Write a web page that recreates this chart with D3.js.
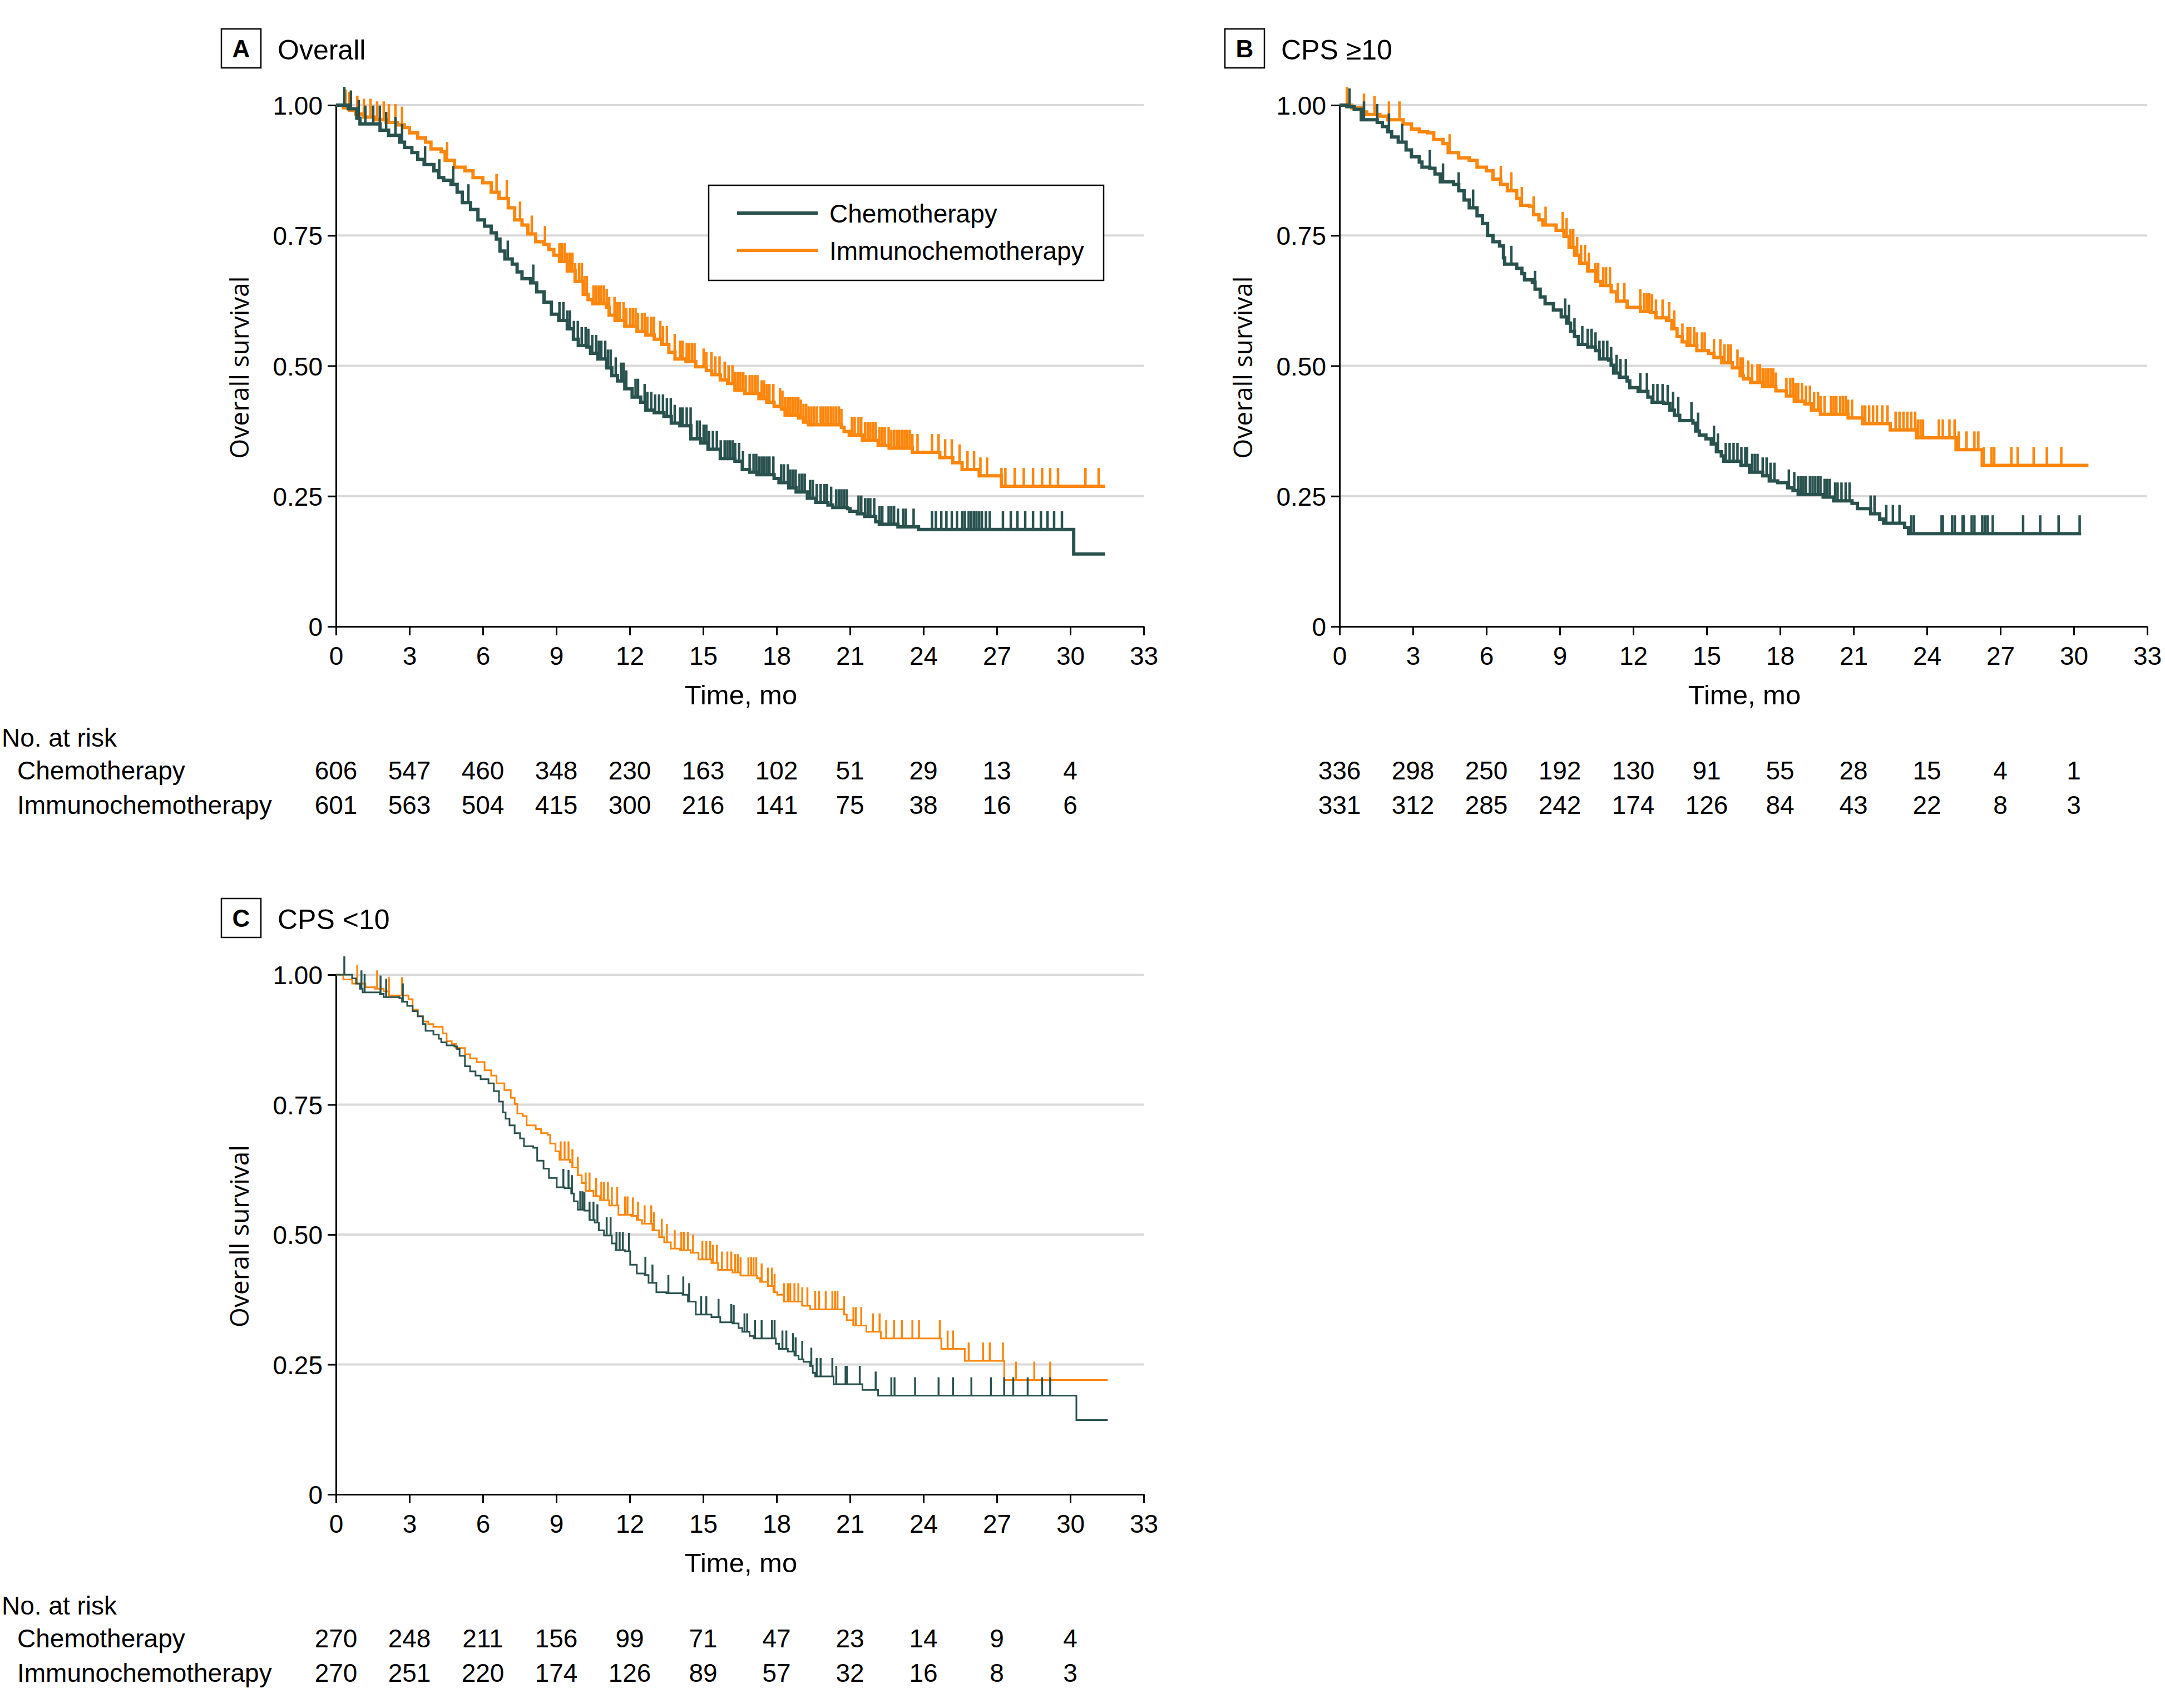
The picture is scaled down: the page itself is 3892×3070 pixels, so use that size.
<!DOCTYPE html>
<html><head><meta charset="utf-8">
<script src="https://cdn.jsdelivr.net/npm/d3@7/dist/d3.min.js"></script>
<style>body{margin:0;background:#fff}svg{display:block}</style>
</head><body>
<svg id="chart" width="3892" height="3070"></svg>
<script>
// ---------- DATA ----------
const seriesNames = ["Chemotherapy", "Immunochemotherapy"];
const seriesColors = ["#29524f", "#fd860d"];
const xTicks = [0, 3, 6, 9, 12, 15, 18, 21, 24, 27, 30, 33];
const yTicks = [0, 0.25, 0.5, 0.75, 1];
const yTickLabels = ["0", "0.25", "0.50", "0.75", "1.00"];
const riskTimes = [0, 3, 6, 9, 12, 15, 18, 21, 24, 27, 30];
const panelLetters = ["A", "B", "C"];
const panelTitles = ["Overall", "CPS \u226510", "CPS <10"];

// Number at risk
const riskA_chemo = [606, 547, 460, 348, 230, 163, 102, 51, 29, 13, 4];
const riskA_immuno = [601, 563, 504, 415, 300, 216, 141, 75, 38, 16, 6];
const riskB_chemo = [336, 298, 250, 192, 130, 91, 55, 28, 15, 4, 1];
const riskB_immuno = [331, 312, 285, 242, 174, 126, 84, 43, 22, 8, 3];
const riskC_chemo = [270, 248, 211, 156, 99, 71, 47, 23, 14, 9, 4];
const riskC_immuno = [270, 251, 220, 174, 126, 89, 57, 32, 16, 8, 3];

// Kaplan-Meier steps [month, survival after step]
const stepsA_chemo = [[0,1],[0.5,0.993],[0.85,0.975],[0.98,0.964],[1.8,0.952],[2.15,0.942],[2.6,0.929],[2.8,0.919],[3.1,0.909],[3.34,0.896],[3.6,0.886],[4.0,0.874],[4.2,0.861],[4.4,0.856],[4.7,0.848],[4.95,0.833],[5.16,0.813],[5.5,0.8],[5.8,0.78],[6.07,0.768],[6.34,0.755],[6.55,0.743],[6.7,0.72],[6.9,0.705],[7.2,0.695],[7.4,0.68],[7.6,0.667],[7.95,0.659],[8.2,0.642],[8.5,0.622],[8.8,0.599],[9.1,0.587],[9.45,0.571],[9.7,0.551],[9.9,0.539],[10.25,0.536],[10.4,0.524],[10.7,0.513],[11.06,0.496],[11.27,0.481],[11.5,0.471],[11.8,0.456],[12.1,0.44],[12.45,0.43],[12.66,0.415],[13.0,0.41],[13.4,0.403],[13.7,0.39],[14.05,0.385],[14.5,0.36],[14.9,0.352],[15.2,0.34],[15.7,0.322],[16.3,0.317],[16.6,0.301],[16.9,0.296],[17.2,0.291],[17.9,0.284],[18.1,0.276],[18.5,0.266],[18.8,0.258],[19.26,0.246],[19.6,0.238],[20.1,0.233],[20.3,0.228],[20.9,0.226],[21.0,0.221],[21.3,0.216],[21.6,0.211],[22.05,0.201],[22.2,0.196],[22.96,0.191],[23.8,0.186],[30.14,0.139]];
const endA_chemo = 31.43;
const censorA_chemo = [0.34,0.61,0.93,1.2,1.52,1.79,2.05,2.43,2.7,3.64,4.22,4.79,5.41,7.02,8.06,9.13,9.29,9.45,9.56,9.72,9.88,10.04,10.2,10.31,10.47,10.63,10.74,10.84,11.0,11.11,11.22,11.43,11.65,11.75,11.86,12.24,12.34,12.61,12.72,12.88,13.04,13.2,13.36,13.52,13.68,13.84,14.06,14.16,14.33,14.49,14.75,14.86,15.02,15.13,15.24,15.4,15.56,15.72,15.88,15.99,16.09,16.2,16.31,16.47,16.63,16.9,17.06,17.17,17.28,17.39,17.49,17.6,17.71,17.87,18.19,18.3,18.46,18.56,18.67,18.78,18.94,19.05,19.15,19.37,19.48,19.64,19.8,19.96,20.06,20.23,20.44,20.55,20.65,20.76,20.87,21.35,21.46,21.62,21.73,21.83,21.99,22.21,22.32,22.58,22.69,22.8,22.96,23.17,23.28,23.6,24.35,24.51,24.73,24.94,25.16,25.37,25.58,25.69,25.85,25.96,26.07,26.17,26.28,26.39,26.55,26.71,27.25,27.57,27.84,28.16,28.48,28.8,29.07,29.34,29.66];

const stepsA_immuno = [[0,1],[0.3,0.995],[0.55,0.99],[0.8,0.983],[1.14,0.977],[1.6,0.972],[2.05,0.967],[2.5,0.962],[2.8,0.957],[3.0,0.947],[3.34,0.937],[3.66,0.929],[3.88,0.916],[4.3,0.911],[4.46,0.894],[4.84,0.881],[5.27,0.874],[5.6,0.861],[6.0,0.851],[6.34,0.833],[6.66,0.821],[7.04,0.803],[7.3,0.78],[7.6,0.77],[7.84,0.753],[8.16,0.738],[8.5,0.733],[8.7,0.723],[8.9,0.712],[9.13,0.7],[9.45,0.682],[9.77,0.662],[10.1,0.637],[10.3,0.627],[10.5,0.619],[11.06,0.612],[11.16,0.597],[11.4,0.587],[11.8,0.576],[12.3,0.566],[12.66,0.559],[13.0,0.551],[13.3,0.541],[13.6,0.526],[13.85,0.513],[14.3,0.508],[14.7,0.498],[15.13,0.491],[15.35,0.483],[15.7,0.473],[16.0,0.466],[16.3,0.453],[16.7,0.447],[17.28,0.437],[17.6,0.43],[17.9,0.422],[18.2,0.417],[18.35,0.405],[18.9,0.4],[19.1,0.392],[19.3,0.387],[20.65,0.382],[20.76,0.374],[20.97,0.367],[21.5,0.357],[22.15,0.347],[22.6,0.342],[23.55,0.334],[24.67,0.324],[25.2,0.314],[25.58,0.301],[26.28,0.289],[27.19,0.269]];
const endA_immuno = 31.43;
const censorA_immuno = [0.39,0.55,0.87,1.14,1.41,1.68,1.95,2.16,2.43,2.7,4.54,6.56,6.98,7.52,8.0,8.54,9.13,9.23,9.34,9.45,9.56,9.66,9.77,9.93,10.04,10.15,10.25,10.52,10.63,10.74,10.84,10.95,11.06,11.16,11.38,11.49,11.59,11.75,11.86,12.02,12.13,12.24,12.34,12.5,12.61,12.72,12.88,12.99,13.25,13.36,13.52,13.84,14.06,14.16,14.33,14.43,14.54,14.65,15.02,15.13,15.34,15.5,15.67,15.88,16.04,16.2,16.31,16.42,16.53,16.64,16.74,16.9,17.01,17.12,17.22,17.39,17.49,17.6,17.71,17.87,18.14,18.24,18.35,18.46,18.56,18.67,18.78,18.89,18.99,19.1,19.21,19.31,19.42,19.53,19.64,19.8,19.9,20.01,20.12,20.23,20.33,20.44,20.55,20.65,21.08,21.19,21.35,21.46,21.62,21.73,21.83,21.94,22.05,22.21,22.32,22.42,22.58,22.69,22.8,22.91,23.01,23.12,23.23,23.33,23.44,23.55,23.76,24.35,24.62,24.89,25.16,25.48,25.8,26.07,26.33,26.6,27.19,27.35,27.73,28.1,28.48,28.85,29.18,29.5,30.62,31.16];

const stepsB_chemo = [[0,1],[0.3,0.997],[0.6,0.992],[0.89,0.972],[1.54,0.967],[1.75,0.959],[1.97,0.949],[2.13,0.939],[2.4,0.929],[2.72,0.914],[2.94,0.901],[3.26,0.891],[3.37,0.881],[3.69,0.879],[3.9,0.868],[4.12,0.853],[4.66,0.848],[4.87,0.836],[5.09,0.818],[5.3,0.803],[5.62,0.788],[5.84,0.773],[6.05,0.75],[6.27,0.738],[6.54,0.73],[6.7,0.707],[6.75,0.695],[7.24,0.687],[7.45,0.677],[7.56,0.665],[7.88,0.66],[7.99,0.647],[8.2,0.632],[8.4,0.619],[8.74,0.607],[9.06,0.594],[9.28,0.582],[9.44,0.566],[9.6,0.556],[9.76,0.541],[10.14,0.536],[10.46,0.529],[10.62,0.513],[11.0,0.511],[11.1,0.501],[11.2,0.486],[11.43,0.478],[11.75,0.471],[11.86,0.458],[12.2,0.451],[12.6,0.44],[12.77,0.43],[13.25,0.428],[13.5,0.415],[13.68,0.405],[13.9,0.395],[14.44,0.39],[14.55,0.375],[14.7,0.367],[14.97,0.36],[15.19,0.35],[15.4,0.335],[15.6,0.327],[15.7,0.317],[16.4,0.309],[16.75,0.296],[17.29,0.289],[17.56,0.279],[17.9,0.276],[18.31,0.266],[18.53,0.261],[18.74,0.253],[19.76,0.248],[20.19,0.241],[20.94,0.236],[21.16,0.226],[21.7,0.216],[22.07,0.206],[22.23,0.198],[23.09,0.19],[23.25,0.178]];
const endB_chemo = 30.3;
const censorB_chemo = [0.41,1.0,1.54,2.02,2.56,3.69,4.23,4.87,5.46,7.02,7.99,9.22,9.38,9.6,9.92,10.14,10.3,10.46,10.62,10.78,10.94,11.1,11.32,11.48,11.7,12.29,12.56,12.82,12.99,13.2,13.41,13.63,13.84,14.38,14.65,15.3,15.46,15.78,15.94,16.1,16.26,16.42,16.58,16.65,16.86,16.97,17.08,17.29,17.45,17.61,17.77,18.36,18.58,18.74,18.85,18.96,19.06,19.22,19.33,19.44,19.55,19.65,19.82,19.92,20.03,20.25,20.35,20.51,20.68,20.84,21.7,21.86,22.34,22.61,22.88,23.36,23.47,24.6,24.65,25.03,25.14,25.46,25.51,25.83,25.94,26.26,26.37,26.48,26.69,27.93,28.63,29.38,30.24];

const stepsB_immuno = [[0,1],[0.5,0.995],[0.9,0.987],[1.11,0.982],[1.65,0.979],[1.97,0.972],[2.6,0.964],[2.94,0.954],[3.26,0.949],[3.6,0.947],[3.85,0.934],[4.23,0.926],[4.44,0.909],[4.87,0.899],[5.3,0.894],[5.62,0.881],[6.0,0.874],[6.27,0.858],[6.59,0.848],[6.86,0.836],[7.24,0.821],[7.4,0.808],[7.77,0.806],[7.93,0.79],[8.15,0.78],[8.31,0.77],[8.85,0.76],[9.17,0.748],[9.38,0.727],[9.6,0.712],[9.81,0.697],[10.14,0.682],[10.46,0.662],[10.67,0.654],[11.1,0.642],[11.32,0.624],[11.75,0.612],[12.3,0.604],[12.7,0.602],[12.93,0.592],[13.36,0.587],[13.58,0.571],[13.79,0.556],[14.0,0.546],[14.2,0.539],[14.6,0.529],[15.08,0.524],[15.3,0.516],[15.62,0.506],[16.05,0.496],[16.37,0.481],[16.5,0.475],[16.8,0.468],[17.29,0.46],[17.83,0.452],[18.26,0.442],[18.58,0.432],[19.01,0.427],[19.28,0.415],[19.65,0.407],[20.78,0.4],[21.37,0.389],[22.5,0.377],[23.58,0.362],[25.19,0.339],[26.26,0.309]];
const endB_immuno = 30.6;
const censorB_immuno = [0.3,1.0,1.43,2.02,2.45,4.5,6.59,7.02,7.45,7.93,8.42,9.12,9.28,9.44,9.55,9.71,9.87,10.03,10.19,10.46,10.57,10.78,10.89,11.05,11.37,11.64,12.29,12.45,12.56,12.66,12.77,12.93,13.2,13.47,13.68,14.01,14.22,14.33,14.49,14.6,14.81,14.92,15.3,15.56,15.73,15.89,15.99,16.26,16.38,16.48,16.7,16.86,17.08,17.18,17.29,17.4,17.5,17.61,17.72,17.83,18.26,18.42,18.53,18.63,18.74,18.9,19.06,19.22,19.39,19.55,19.65,19.82,20.08,20.19,20.3,20.46,20.57,20.68,20.78,20.94,21.37,21.48,21.64,21.8,21.96,22.18,22.39,22.72,22.88,23.04,23.2,23.36,23.52,23.63,23.74,23.84,24.49,24.65,24.92,25.13,25.3,25.62,25.94,26.1,26.32,26.64,26.75,27.45,27.71,28.36,28.9,29.49];

const stepsC_chemo = [[0,1],[0.66,0.993],[0.82,0.983],[0.98,0.973],[1.09,0.966],[1.79,0.963],[1.95,0.957],[2.59,0.955],[2.7,0.948],[2.91,0.94],[3.13,0.93],[3.34,0.92],[3.55,0.905],[3.66,0.892],[3.98,0.885],[4.2,0.877],[4.3,0.87],[4.52,0.864],[4.84,0.862],[4.95,0.857],[5.05,0.844],[5.27,0.824],[5.48,0.814],[5.7,0.806],[5.91,0.799],[6.23,0.791],[6.45,0.776],[6.66,0.756],[6.82,0.735],[6.93,0.723],[7.09,0.71],[7.3,0.695],[7.52,0.685],[7.68,0.67],[8.06,0.667],[8.22,0.642],[8.48,0.627],[8.7,0.609],[9.02,0.591],[9.34,0.589],[9.61,0.579],[9.72,0.564],[9.88,0.548],[10.15,0.546],[10.36,0.528],[10.57,0.523],[10.74,0.508],[10.95,0.498],[11.27,0.483],[11.43,0.47],[11.81,0.468],[12.02,0.442],[12.29,0.425],[12.61,0.422],[12.77,0.407],[13.09,0.389],[13.5,0.387],[14.16,0.384],[14.38,0.371],[14.7,0.346],[15.34,0.341],[15.7,0.331],[16.2,0.329],[16.45,0.32],[16.6,0.313],[16.9,0.305],[17.06,0.3],[17.97,0.29],[18.1,0.28],[18.46,0.275],[18.73,0.267],[18.9,0.26],[19.1,0.255],[19.37,0.247],[19.48,0.234],[19.58,0.227],[20.33,0.212],[21.51,0.201],[22.15,0.19],[30.25,0.143]];
const endC_chemo = 31.53;
const censorC_chemo = [0.34,1.04,1.17,1.82,2.05,2.73,9.29,9.5,9.64,9.98,10.07,10.15,10.36,10.52,10.68,11.06,11.22,11.46,11.59,11.72,11.97,12.64,12.93,13.58,14.19,14.43,14.92,15.13,15.63,16.15,16.25,16.69,16.8,17.12,17.39,17.81,17.92,18.24,18.4,18.67,18.78,19.05,19.42,19.64,19.8,20.28,20.44,20.82,20.87,21.4,22.05,22.69,22.82,23.66,24.62,25.21,25.96,26.76,27.3,27.67,28.26,28.85,29.18];

const stepsC_immuno = [[0,1],[0.3,0.991],[0.66,0.983],[1.2,0.976],[1.6,0.973],[1.95,0.968],[2.16,0.96],[2.96,0.953],[3.13,0.933],[3.34,0.92],[3.55,0.91],[3.77,0.905],[3.98,0.9],[4.36,0.887],[4.52,0.872],[4.73,0.867],[4.9,0.859],[5.27,0.847],[5.48,0.839],[5.75,0.832],[6.07,0.816],[6.34,0.806],[6.56,0.791],[6.88,0.778],[7.14,0.763],[7.3,0.751],[7.41,0.733],[7.63,0.728],[7.79,0.71],[8.16,0.703],[8.38,0.695],[8.65,0.692],[8.75,0.675],[8.97,0.66],[9.13,0.644],[9.56,0.639],[9.66,0.629],[9.88,0.614],[10.04,0.599],[10.2,0.584],[10.52,0.574],[10.79,0.566],[11.16,0.556],[11.54,0.538],[12.07,0.536],[12.29,0.528],[12.5,0.521],[12.93,0.508],[13.2,0.495],[13.41,0.485],[13.68,0.473],[14.06,0.47],[14.49,0.465],[14.81,0.452],[15.34,0.445],[15.61,0.432],[16.2,0.427],[16.53,0.421],[17.2,0.416],[17.33,0.409],[17.65,0.401],[17.87,0.389],[18.03,0.384],[18.3,0.371],[19.05,0.363],[19.37,0.356],[20.76,0.346],[20.87,0.335],[21.14,0.325],[21.67,0.313],[22.26,0.3],[24.73,0.28],[25.69,0.257],[27.3,0.22]];
const endC_immuno = 31.53;
const censorC_immuno = [0.87,1.68,2.16,2.7,9.18,9.34,9.5,9.66,9.88,10.2,10.36,10.63,10.84,10.95,11.11,11.27,11.49,11.81,11.91,12.13,12.34,12.61,12.88,12.99,13.31,13.52,13.84,14.11,14.22,14.38,14.59,14.97,15.13,15.29,15.4,15.56,15.77,15.99,16.15,16.31,16.42,16.53,16.85,16.96,17.06,17.17,17.39,17.65,17.81,17.92,18.3,18.46,18.56,18.73,18.89,19.05,19.26,19.58,19.74,20.01,20.28,20.39,20.49,20.76,21.14,21.24,21.46,21.94,22.21,22.48,22.8,23.12,23.55,23.82,24.67,24.99,25.21,25.85,26.44,26.71,27.25,27.78,28.53,29.18];

// ---------- PANEL CONFIG ----------
const panels = [
  { letter: panelLetters[0], title: panelTitles[0], left: 604, top: 189, bottom: 1126, lw: 6, cw: 4.5, legend: true, riskLabels: true,
    series: [
      { steps: stepsA_chemo, end: endA_chemo, censor: censorA_chemo, risk: riskA_chemo },
      { steps: stepsA_immuno, end: endA_immuno, censor: censorA_immuno, risk: riskA_immuno } ] },
  { letter: panelLetters[1], title: panelTitles[1], left: 2408, top: 189, bottom: 1126, lw: 6, cw: 4.5, legend: false, riskLabels: false,
    series: [
      { steps: stepsB_chemo, end: endB_chemo, censor: censorB_chemo, risk: riskB_chemo },
      { steps: stepsB_immuno, end: endB_immuno, censor: censorB_immuno, risk: riskB_immuno } ] },
  { letter: panelLetters[2], title: panelTitles[2], left: 604, top: 1752, bottom: 2686, lw: 3, cw: 3.5, legend: false, riskLabels: true,
    series: [
      { steps: stepsC_chemo, end: endC_chemo, censor: censorC_chemo, risk: riskC_chemo },
      { steps: stepsC_immuno, end: endC_immuno, censor: censorC_immuno, risk: riskC_immuno } ] }
];

const W = 1452;
const FONT = "'Liberation Sans', Arial, sans-serif";
const svg = d3.select("#chart");
svg.append("rect").attr("width", 3892).attr("height", 3070).attr("fill", "#fff");

function survAt(steps, t) {
  let s = 1;
  for (const [tt, ss] of steps) { if (tt <= t) s = ss; else break; }
  return s;
}

panels.forEach(p => {
  const x = d3.scaleLinear().domain([0, 33]).range([p.left, p.left + W]);
  const y = d3.scaleLinear().domain([0, 1]).range([p.bottom, p.top]);
  const g = svg.append("g");

  // gridlines
  g.selectAll(".grid").data(yTicks.filter(d => d > 0)).enter().append("line")
    .attr("x1", x(0)).attr("x2", x(33)).attr("y1", d => y(d)).attr("y2", d => y(d))
    .attr("stroke", "#d9d9d9").attr("stroke-width", 4);

  // x axis
  const xAxis = d3.axisBottom(x).tickValues(xTicks).tickSize(16).tickSizeOuter(0).tickFormat(d3.format("d"));
  const gx = g.append("g").attr("transform", `translate(0,${p.bottom})`).call(xAxis);
  gx.select(".domain").attr("stroke", "#000").attr("stroke-width", 3);
  gx.selectAll(".tick line").attr("stroke", "#000").attr("stroke-width", 3);
  gx.selectAll(".tick text").attr("font-family", FONT).attr("font-size", 46).attr("fill", "#000")
    .attr("y", 69).attr("dy", 0);

  // y axis
  const yAxis = d3.axisLeft(y).tickValues(yTicks).tickSize(15).tickSizeOuter(0)
    .tickFormat((d, i) => yTickLabels[i]);
  const gy = g.append("g").attr("transform", `translate(${p.left},0)`).call(yAxis);
  gy.select(".domain").attr("stroke", "#000").attr("stroke-width", 3);
  gy.selectAll(".tick line").attr("stroke", "#000").attr("stroke-width", 3);
  gy.selectAll(".tick text").attr("font-family", FONT).attr("font-size", 46).attr("fill", "#000")
    .attr("x", -24).attr("dy", "0.36em");

  // axis titles
  g.append("text").attr("x", p.left + W / 2 + 2).attr("y", p.bottom + 140)
    .attr("text-anchor", "middle").attr("font-family", FONT).attr("font-size", 49).text("Time, mo");
  g.append("text").attr("transform", `translate(${p.left - 157},${(p.top + p.bottom) / 2 + 3}) rotate(-90)`)
    .attr("text-anchor", "middle").attr("font-family", "'Open Sans', 'Noto Sans', sans-serif").attr("font-size", 46)
    .text("Overall survival");

  // panel title
  g.append("rect").attr("x", p.left - 206).attr("y", p.top - 137).attr("width", 71).attr("height", 70)
    .attr("fill", "none").attr("stroke", "#000").attr("stroke-width", 2.5);
  g.append("text").attr("x", p.left - 170.5).attr("y", p.top - 86).attr("text-anchor", "middle")
    .attr("font-family", FONT).attr("font-weight", "bold").attr("font-size", 44).text(p.letter);
  g.append("text").attr("x", p.left - 105).attr("y", p.top - 82)
    .attr("font-family", FONT).attr("font-size", 50).text(p.title);

  // curves (immuno first, chemo on top)
  const line = d3.line().x(d => x(d[0])).y(d => y(d[1])).curve(d3.curveStepAfter);
  [1, 0].forEach(si => {
    const s = p.series[si];
    const pts = s.steps.concat([[s.end, s.steps[s.steps.length - 1][1]]]);
    g.append("path").attr("d", line(pts)).attr("fill", "none")
      .attr("stroke", seriesColors[si]).attr("stroke-width", p.lw).attr("stroke-linejoin", "miter");
    g.selectAll(null).data(s.censor).enter().append("line")
      .attr("x1", d => x(d)).attr("x2", d => x(d))
      .attr("y1", d => y(survAt(s.steps, d)) + p.lw / 2 - 1)
      .attr("y2", d => y(survAt(s.steps, d)) - 33)
      .attr("stroke", seriesColors[si]).attr("stroke-width", p.cw);
  });

  // legend
  if (p.legend) {
    const lx = p.left + 670, ly = p.top + 144;
    g.append("rect").attr("x", lx).attr("y", ly).attr("width", 710).attr("height", 171)
      .attr("fill", "#fff").attr("stroke", "#000").attr("stroke-width", 2.5);
    seriesNames.forEach((n, i) => {
      const yy = ly + 50 + i * 67;
      g.append("line").attr("x1", lx + 51).attr("x2", lx + 196).attr("y1", yy).attr("y2", yy)
        .attr("stroke", seriesColors[i]).attr("stroke-width", 6);
      g.append("text").attr("x", lx + 217).attr("y", yy + 17).attr("font-family", FONT)
        .attr("font-size", 46).text(n);
    });
  }

  // number at risk
  if (p.riskLabels) {
    g.append("text").attr("x", 3).attr("y", p.bottom + 216).attr("font-family", FONT).attr("font-size", 46).text("No. at risk");
    seriesNames.forEach((n, i) => {
      g.append("text").attr("x", 31).attr("y", p.bottom + 275 + i * 62).attr("font-family", FONT)
        .attr("font-size", 46).text(n);
    });
  }
  p.series.forEach((s, i) => {
    g.selectAll(null).data(s.risk).enter().append("text")
      .attr("x", (d, j) => x(riskTimes[j])).attr("y", p.bottom + 275 + i * 62)
      .attr("text-anchor", "middle").attr("font-family", FONT).attr("font-size", 46).text(d => d);
  });
});
</script>
</body></html>
